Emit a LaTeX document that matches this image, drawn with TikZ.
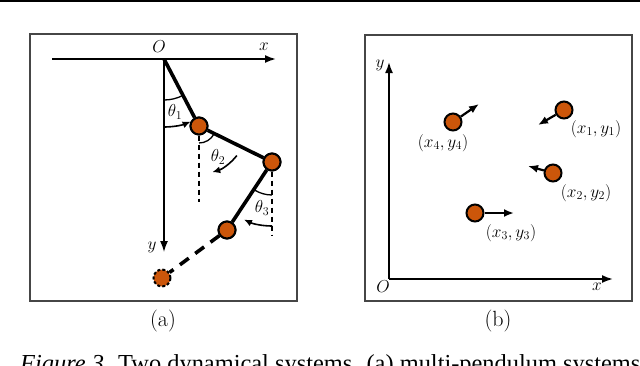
\documentclass[tikz,border=0pt]{standalone}
\usepackage{fontspec}
\newfontfamily\capfont{Liberation Serif}
\usetikzlibrary{arrows.meta}
\definecolor{bobc}{RGB}{204,86,10}
\definecolor{framec}{RGB}{70,70,70}
\tikzset{
  bob/.style={circle,draw=black,fill=bobc,line width=2pt,minimum size=17pt,inner sep=0pt},
  ghost/.style={bob,dashed,dash pattern=on 3pt off 2pt},
  rod/.style={line width=3.6pt},
  ghostrod/.style={line width=3.6pt,dash pattern=on 11pt off 8pt},
  axis/.style={line width=1.8pt,-{Latex[length=11pt,width=8pt]}},
  vel/.style={line width=2.2pt,-{Latex[length=10pt,width=8pt]}},
  turn/.style={line width=1.6pt,-{Latex[length=8pt,width=7pt]}},
  plainarc/.style={line width=1.3pt},
  vert/.style={line width=1.4pt,dash pattern=on 5pt off 4pt},
  frame/.style={draw=framec,line width=1.4pt},
  lab/.style={font=\fontsize{18}{18}\selectfont,inner sep=0pt},
  thlab/.style={font=\fontsize{17}{17}\selectfont,inner sep=0pt},
  plab/.style={font=\fontsize{17.5}{17.5}\selectfont,inner sep=0pt},
  sub/.style={font=\fontsize{22}{22}\selectfont,inner sep=0pt}
}
\begin{document}
\begin{tikzpicture}[x=1pt,y=-1pt]
\useasboundingbox (0,0) rectangle (640,365);
% top rule
\draw[line width=1.6pt] (0,0.8) -- (640,0.8);
% frames
\draw[frame] (30,34) rectangle (297,301);
\draw[frame] (365,35) rectangle (632,301);

% ---------- panel (a) ----------
\coordinate (O) at (164,59);
\coordinate (xs) at (52,59);
\coordinate (xe) at (276,59);
\coordinate (ye) at (164,252);
\draw[axis] (xs) -- (xe);
\draw[line width=1.5pt,-{Latex[length=11pt,width=8pt]}] (O) -- (ye);
\node[lab] (lO) at (159,47) {$O$};
\node[lab] (lx) at (264,47) {$x$};
\node[lab] (ly) at (152,247) {$y$};

\node[bob] (b1) at (199,126) {};
\node[bob] (b2) at (272,162) {};
\node[bob] (b3) at (227,230) {};
\node[ghost] (b4) at (162,278) {};
\coordinate (d1) at (199,202);
\coordinate (d2) at (272,235);
\draw[vert] (b1) -- (d1);
\draw[vert] (b2) -- (d2);
\draw[rod] (O) -- (b1);
\draw[rod] (b1) -- (b2);
\draw[rod] (b2) -- (b3);
\draw[ghostrod] (b3) -- (b4);
% redraw bobs on top
\node[bob] at (b1) {};
\node[bob] at (b2) {};
\node[bob] at (b3) {};

% theta1
\draw[plainarc] (O) ++(90:41) arc[start angle=90,end angle=62.4,radius=41];
\draw[turn] (O) ++(90:68) arc[start angle=90,end angle=67,radius=68];
\node[thlab] (t1) at (175,112) {$\theta_1$};
% theta2
\draw[plainarc] (b1) ++(90:17) arc[start angle=90,end angle=28,radius=17];
\draw[turn] (b1) ++(38:48) arc[start angle=38,end angle=74,radius=48];
\node[thlab] (t2) at (218,157) {$\theta_2$};
% theta3
\draw[plainarc] (b2) ++(90:33) arc[start angle=90,end angle=122,radius=33];
\draw[turn] (b2) ++(90:64) arc[start angle=90,end angle=116,radius=64];
\node[thlab] (t3) at (262,208) {$\theta_3$};

\node[sub] (ca) at (163,321) {(a)};

% ---------- panel (b) ----------
\coordinate (O2) at (389,279);
\coordinate (ytip) at (389,62);
\coordinate (xtip) at (613,279);
\draw[axis] (O2) -- (ytip);
\draw[axis] (O2) -- (xtip);
\node[lab] (lO2) at (383,287) {$O$};
\node[lab] (lx2) at (597,287) {$x$};
\node[lab] (ly2) at (380,65) {$y$};

\node[bob] (p1) at (564,110) {};
\node[bob] (p2) at (553,173) {};
\node[bob] (p3) at (475,213) {};
\node[bob] (p4) at (453,122) {};
\coordinate (v1) at (538,125);
\coordinate (v2) at (528,166);
\coordinate (v3) at (514,213);
\coordinate (v4) at (479,104);
\draw[vel] (p1) -- (v1);
\draw[vel] (p2) -- (v2);
\draw[vel] (p3) -- (v3);
\draw[vel] (p4) -- (v4);
\node[plab] (l1) at (596,129) {$(x_1,y_1)$};
\node[plab] (l2) at (586,193) {$(x_2,y_2)$};
\node[plab] (l3) at (511,233) {$(x_3,y_3)$};
\node[plab] (l4) at (443,143) {$(x_4,y_4)$};

\node[sub] (cb) at (498,321) {(b)};

% caption (cut off by the page edge, as in the reference)
\node[anchor=base west,inner sep=0pt,font=\capfont\fontsize{24.4}{24.4}\selectfont] (cap) at (20,371)
  {\textit{Figure 3.} Two dynamical systems. (a) multi-pendulum systems};
\end{tikzpicture}
\end{document}
